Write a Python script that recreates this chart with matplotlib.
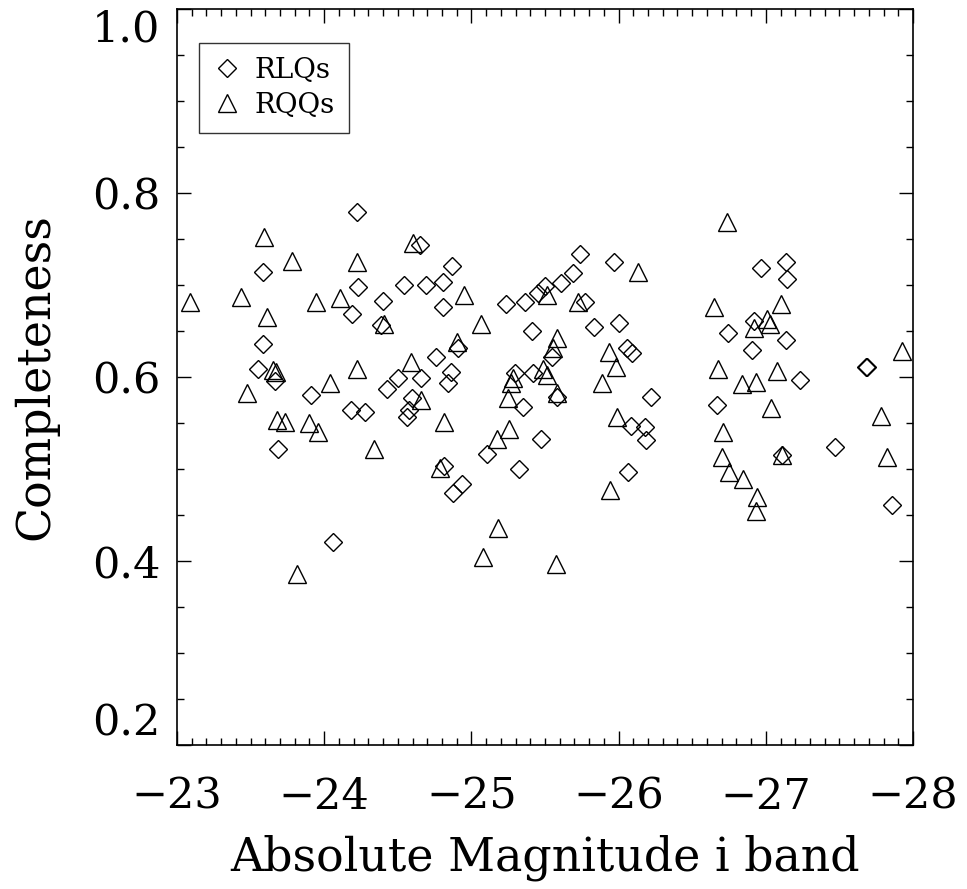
import numpy as np
import matplotlib
matplotlib.use("Agg")
import matplotlib.pyplot as plt
from matplotlib.ticker import MultipleLocator

plt.rcParams['font.family'] = ['DejaVu Serif']

# radio-loud quasars: absolute i-band magnitude vs completeness
rlq_mag = [-23.584, -23.584, -23.550, -23.665, -23.686, -23.910, -24.059, -24.181,
           -24.188, -24.222, -24.229, -24.276, -24.398, -24.385, -24.426, -24.500,
           -24.541, -24.595, -24.575, -24.561, -24.650, -24.656, -24.690, -24.758,
           -24.806, -24.806, -24.813, -24.867, -24.860, -24.840, -24.908, -24.935,
           -24.874, -25.105, -25.234, -25.295, -25.322, -25.349, -25.363, -25.410,
           -25.417, -25.451, -25.471, -25.498, -25.546, -25.580, -25.607, -25.688,
           -25.736, -25.770, -25.831, -25.967, -26.001, -26.055, -26.089, -26.082,
           -26.177, -26.184, -26.062, -26.218, -26.666, -26.741, -26.904, -26.917,
           -26.965, -27.107, -27.134, -27.141, -27.134, -27.229, -27.467, -27.684,
           -27.686, -27.854]
rlq_comp = [0.714, 0.636, 0.609, 0.596, 0.522, 0.580, 0.421, 0.564,
            0.668, 0.779, 0.698, 0.562, 0.683, 0.657, 0.587, 0.599,
            0.700, 0.577, 0.564, 0.556, 0.743, 0.599, 0.700, 0.622,
            0.703, 0.676, 0.503, 0.721, 0.605, 0.594, 0.632, 0.484,
            0.474, 0.516, 0.679, 0.604, 0.500, 0.567, 0.681, 0.650,
            0.604, 0.691, 0.533, 0.699, 0.622, 0.578, 0.702, 0.713,
            0.734, 0.681, 0.654, 0.725, 0.659, 0.631, 0.626, 0.547,
            0.546, 0.532, 0.497, 0.578, 0.570, 0.648, 0.629, 0.661,
            0.718, 0.515, 0.725, 0.706, 0.640, 0.597, 0.524, 0.611,
            0.611, 0.461]

# radio-quiet quasars
rqq_mag = [-23.088, -23.434, -23.475, -23.591, -23.611, -23.652, -23.672, -23.679,
           -23.733, -23.781, -23.815, -23.896, -23.944, -23.957, -24.039, -24.107,
           -24.222, -24.222, -24.337, -24.405, -24.589, -24.602, -24.656, -24.813,
           -24.785, -24.901, -24.948, -25.064, -25.077, -25.172, -25.179, -25.254,
           -25.247, -25.281, -25.267, -25.485, -25.512, -25.512, -25.580, -25.553,
           -25.580, -25.573, -25.722, -25.885, -25.933, -25.980, -25.940, -25.987,
           -26.130, -26.646, -26.673, -26.707, -26.700, -26.734, -26.748, -26.836,
           -26.843, -26.917, -26.931, -26.938, -26.931, -27.005, -27.026, -27.033,
           -27.073, -27.100, -27.107, -27.786, -27.820, -27.922]
rqq_comp = [0.681, 0.687, 0.583, 0.752, 0.665, 0.608, 0.605, 0.553,
            0.551, 0.726, 0.386, 0.550, 0.681, 0.540, 0.594, 0.686,
            0.725, 0.609, 0.522, 0.658, 0.616, 0.746, 0.575, 0.551,
            0.501, 0.638, 0.689, 0.658, 0.404, 0.533, 0.436, 0.544,
            0.577, 0.599, 0.594, 0.609, 0.602, 0.689, 0.642, 0.632,
            0.583, 0.397, 0.681, 0.594, 0.627, 0.611, 0.477, 0.557,
            0.714, 0.676, 0.609, 0.540, 0.513, 0.769, 0.497, 0.592,
            0.489, 0.653, 0.595, 0.470, 0.454, 0.663, 0.658, 0.566,
            0.607, 0.679, 0.515, 0.558, 0.513, 0.628]

fig = plt.figure(figsize=(9.67, 8.89), dpi=100)
ax = fig.add_axes([177/967, 144/889, 736/967, 736/889])

ax.plot(rlq_mag, rlq_comp, linestyle='none', marker='D', ms=9.6,
        mfc='none', mec='black', mew=1.0, label='RLQs')
ax.plot(rqq_mag, rqq_comp, linestyle='none', marker='^', ms=13.5,
        mfc='none', mec='black', mew=1.0, label='RQQs')

ax.set_xlim(-23, -28)
ax.set_ylim(0.2, 1.0)
ax.xaxis.set_major_locator(MultipleLocator(1))
ax.xaxis.set_minor_locator(MultipleLocator(0.1))
ax.yaxis.set_major_locator(MultipleLocator(0.2))
ax.yaxis.set_minor_locator(MultipleLocator(0.05))
ax.set_xticks([-23, -24, -25, -26, -27, -28])
ax.set_xticklabels(['\u221223', '\u221224', '\u221225', '\u221226', '\u221227', '\u221228'])
ax.set_yticks([0.2, 0.4, 0.6, 0.8, 1.0])
ax.set_yticklabels(['0.2', '0.4', '0.6', '0.8', '1.0'])

ax.tick_params(which='both', direction='in', top=True, right=True, width=1.0)
ax.tick_params(which='major', length=10)
ax.tick_params(which='minor', length=5)
ax.tick_params(axis='x', which='major', labelsize=31, pad=22)
ax.tick_params(axis='y', which='major', labelsize=31, pad=12)
for sp in ax.spines.values():
    sp.set_linewidth(1.2)

# keep the end labels inside the frame
ylabs = ax.get_yticklabels()
ylabs[0].set_va('bottom')
ylabs[-1].set_va('top')

ax.set_xlabel('Absolute Magnitude i band', fontsize=33, labelpad=12)
ax.set_ylabel('Completeness', fontsize=33, labelpad=24)

leg = ax.legend(loc='upper left', bbox_to_anchor=(0.03, 0.954), fontsize=20,
                frameon=True, fancybox=False, edgecolor='black',
                handlelength=1.0, handletextpad=0.5, borderpad=0.5,
                labelspacing=0.3, borderaxespad=0)
leg.get_frame().set_linewidth(1.0)

fig.savefig('out.png', dpi=100)
